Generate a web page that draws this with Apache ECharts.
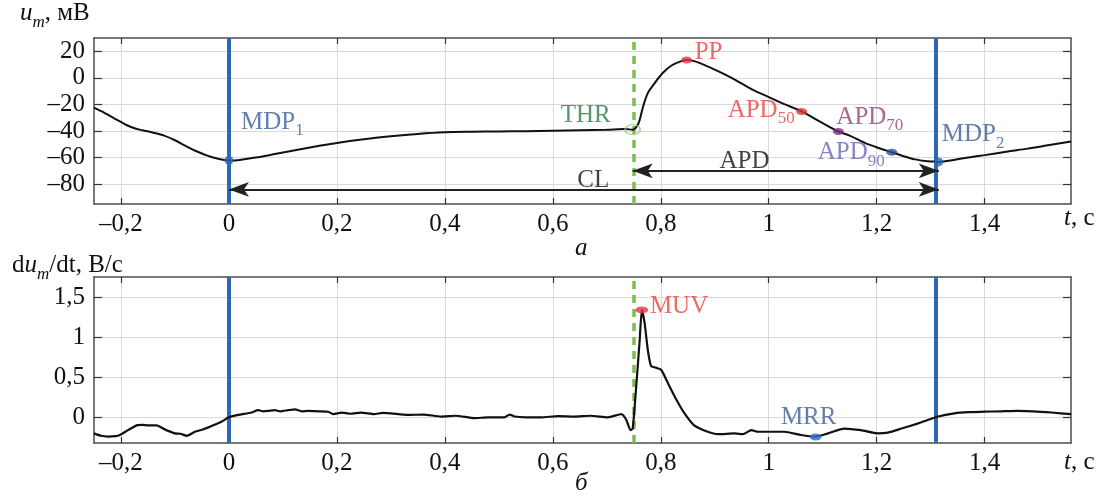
<!DOCTYPE html>
<html>
<head>
<meta charset="utf-8">
<title>Action potential</title>
<script src="https://cdn.jsdelivr.net/npm/echarts@6.0.0/dist/echarts.min.js"></script>
<style>
  html, body { margin: 0; padding: 0; background: #fff; }
  #chart { width: 1102px; height: 496px; }
</style>
</head>
<body>
<div id="chart"></div>
<script>
// membrane potential u_m, mV
const tTop = [-0.25, -0.23, -0.21, -0.19, -0.175, -0.16, -0.14, -0.12, -0.10, -0.08, -0.06, -0.04, -0.02, 0,
  0.02, 0.05, 0.08, 0.11, 0.14, 0.17, 0.2, 0.25, 0.3, 0.35, 0.4, 0.45, 0.5, 0.55, 0.6, 0.65, 0.7, 0.735,
  0.748, 0.754, 0.760, 0.767, 0.776, 0.789, 0.804, 0.82, 0.838, 0.848, 0.862, 0.876, 0.906, 0.937, 0.968,
  1.0, 1.03, 1.061, 1.095, 1.129, 1.15, 1.178, 1.205, 1.228, 1.25, 1.271, 1.29, 1.302, 1.315, 1.33, 1.345,
  1.37, 1.40, 1.44, 1.48, 1.52, 1.56];
const uTop = [-22.5, -26.5, -31, -35.5, -38, -39.5, -41.3, -43.5, -47, -51.3, -55.3, -58.6, -61, -62.2,
  -61.8, -60, -57.8, -55.5, -53.2, -51, -49, -46.3, -44, -42.2, -41, -40.6, -40.4, -40.2, -39.8, -39.4, -39, -38.6,
  -39, -37.5, -33, -22, -11.5, -3.8, 3.8, 9.3, 12.6, 13.4, 12.6, 10.5, 5, -1.3, -8.5,
  -14.5, -20, -25.3, -33, -40.4, -43.5, -49, -53, -56, -59, -61.4, -62.6, -63, -63.3, -62.6, -61.6,
  -60, -58.2, -55.6, -53.3, -50.6, -48];

// derivative du_m/dt, V/s
const tDv = [-0.25, -0.237, -0.224, -0.21, -0.202, -0.187, -0.171, -0.16, -0.15, -0.134, -0.119, -0.10, -0.09,
  -0.078, -0.063, -0.05, -0.038, -0.014, 0, 0.017, 0.042, 0.054, 0.064, 0.073, 0.085, 0.095, 0.11, 0.122,
  0.135, 0.147, 0.165, 0.184, 0.193, 0.209, 0.225, 0.245, 0.269, 0.285, 0.3, 0.331, 0.36, 0.393, 0.42,
  0.455, 0.48, 0.51, 0.52, 0.529, 0.55, 0.578, 0.61, 0.64, 0.67, 0.702, 0.727, 0.736, 0.744, 0.748,
  0.754, 0.761, 0.765, 0.770, 0.776, 0.782, 0.791, 0.801, 0.813, 0.829, 0.844, 0.862, 0.887, 0.906,
  0.937, 0.952, 0.968, 0.980, 0.998, 1.029, 1.06, 1.085, 1.11, 1.14, 1.171, 1.202, 1.221, 1.246, 1.277,
  1.314, 1.344, 1.37, 1.4, 1.43, 1.462, 1.49, 1.524, 1.56];
const dv = [-0.20, -0.23, -0.24, -0.235, -0.22, -0.16, -0.10, -0.095, -0.10, -0.10, -0.15, -0.20, -0.205,
  -0.23, -0.18, -0.155, -0.125, -0.055, 0, 0.03, 0.06, 0.09, 0.075, 0.08, 0.09, 0.075, 0.09, 0.1,
  0.075, 0.08, 0.075, 0.07, 0.04, 0.06, 0.045, 0.06, 0.04, 0.055, 0.05, 0.03, 0.035, 0.01, 0.02,
  -0.01, 0.0, 0.0, 0.035, 0.01, 0.0, 0.0, 0.015, 0.01, 0.02, 0.0, 0.04, -0.03, -0.16, -0.14,
  0.34, 0.97, 1.34, 1.18, 0.84, 0.64, 0.62, 0.59, 0.43, 0.22, 0.05, -0.10, -0.18, -0.21,
  -0.2, -0.21, -0.16, -0.18, -0.18, -0.18, -0.22, -0.24, -0.2, -0.14, -0.16, -0.2, -0.19, -0.14, -0.075,
  0.01, 0.05, 0.065, 0.07, 0.075, 0.08, 0.075, 0.06, 0.04];

const xTicks = [-0.2, 0, 0.2, 0.4, 0.6, 0.8, 1, 1.2, 1.4];
const uTicks = [-80, -60, -40, -20, 0, 20];
const dvTicks = [0, 0.5, 1, 1.5];

// marked points
const uPointNames = ['MDP1', 'THR', 'PP', 'APD50', 'APD70', 'APD90', 'MDP2'];
const uPointT = [0, 0.748, 0.848, 1.061, 1.129, 1.228, 1.315];
const uPointU = [-62.2, -39, 13.4, -25.3, -40.4, -56, -63.3];
const dvPointNames = ['MUV', 'MRR'];
const dvPointT = [0.765, 1.087];
const dvPointV = [1.34, -0.245];

// interval arrows
const arrowNames = ['CL', 'APD'];
const arrowFrom = [0, 0.748];
const arrowTo = [1.315, 1.315];
const arrowLevel = [-84, -70];
const arrowTextT = [0.675, 0.955];

const FONT = "'Liberation Serif', 'Times New Roman', serif";
const BLUE = '#2d68b4';
const GREEN = '#7cbf4f';
const FRAME = '#4d4d4d';

const mdp1T = uPointT[0], thrT = uPointT[1], mdp2T = uPointT[6];

function sub(main, s, color) {
  return {
    formatter: '{m|' + main + '}{s|' + s + '}',
    rich: {
      m: { fontFamily: FONT, fontSize: 25, color: color, padding: [0, 0, 5, 0], verticalAlign: 'bottom' },
      s: { fontFamily: FONT, fontSize: 17, color: color, verticalAlign: 'bottom' }
    }
  };
}
function plain(main, color) {
  return {
    formatter: '{m|' + main + '}',
    rich: { m: { fontFamily: FONT, fontSize: 25, color: color } }
  };
}

// look of each marked point
const pointLook = {
  MDP1:  { dot: BLUE, size: [9, 9], text: sub('MDP', '1', '#3d5f95'), align: 'left', offset: [12, -36] },
  THR:   { dot: 'none', ring: '#9ccd7e', size: [15, 10], text: plain('THR', '#2e7a4a'), align: 'right', offset: [-22, -14] },
  PP:    { dot: '#e8334a', size: [11, 7], text: plain('PP', '#e8453f'), align: 'left', offset: [8, -8] },
  APD50: { dot: '#d6363c', size: [11, 7], text: sub('APD', '50', '#e8453f'), align: 'right', offset: [-7, 1] },
  APD70: { dot: '#7b2d7d', size: [11, 7], text: sub('APD', '70', '#9a3f7c'), align: 'left', offset: [-2, -12] },
  APD90: { dot: '#2c4f9e', size: [11, 7], text: sub('APD', '90', '#6666b5'), align: 'right', offset: [-7, 3] },
  MDP2:  { dot: BLUE, size: [9, 9], text: sub('MDP', '2', '#3d5f95'), align: 'left', offset: [3, -25] },
  MUV:   { dot: '#e8334a', size: [13, 7], text: plain('MUV', '#e8453f'), align: 'left', offset: [8, -3] },
  MRR:   { dot: '#2f6fc0', size: [12, 7], text: plain('MRR', '#3d5f95'), align: 'center', offset: [-7, -20] }
};

function pointData(names, ts, vs) {
  return names.map((n, i) => {
    const look = pointLook[n];
    return {
      name: n,
      value: [ts[i], vs[i]],
      symbolSize: look.size,
      itemStyle: look.ring
        ? { color: 'rgba(0,0,0,0)', borderColor: look.ring, borderWidth: 1.5 }
        : { color: look.dot },
      label: Object.assign({
        show: true, position: 'inside', align: look.align, verticalAlign: 'middle', offset: look.offset
      }, look.text)
    };
  });
}

const fmt = v => (v < 0 ? '\u2013' : '') + String(Math.abs(v)).replace('.', ',');

function xAxes(gridIndex) {
  const base = {
    gridIndex: gridIndex, type: 'value', min: -0.25, max: 1.56,
    axisLine: { show: true, onZero: false, lineStyle: { color: FRAME, width: 1.5 } }
  };
  return [
    Object.assign({}, base, {
      position: 'bottom',
      axisTick: { show: true, inside: true, length: 6, customValues: xTicks, lineStyle: { color: '#333', width: 1.2 } },
      axisLabel: { show: true, customValues: xTicks, formatter: fmt, margin: 8, color: '#111', fontFamily: FONT, fontSize: 25 },
      splitLine: { show: true, lineStyle: { color: '#d9d9d9', width: 1 } }
    }),
    Object.assign({}, base, {
      position: 'top',
      axisTick: { show: true, inside: true, length: 6, customValues: xTicks, lineStyle: { color: '#333', width: 1.2 } },
      axisLabel: { show: false },
      splitLine: { show: false }
    })
  ];
}

function yAxes(gridIndex, min, max, ticks) {
  const base = {
    gridIndex: gridIndex, type: 'value', min: min, max: max,
    axisLine: { show: true, onZero: false, lineStyle: { color: FRAME, width: 1.5 } }
  };
  return [
    Object.assign({}, base, {
      position: 'left',
      axisTick: { show: true, inside: true, length: 8, customValues: ticks, lineStyle: { color: '#333', width: 1.2 } },
      axisLabel: { show: true, customValues: ticks, formatter: fmt, margin: 9, color: '#111', fontFamily: FONT, fontSize: 25 },
      splitLine: { show: true, lineStyle: { color: '#d9d9d9', width: 1 } }
    }),
    Object.assign({}, base, {
      position: 'right',
      axisTick: { show: true, inside: true, length: 8, customValues: ticks, lineStyle: { color: '#333', width: 1.2 } },
      axisLabel: { show: false },
      splitLine: { show: false }
    })
  ];
}

function verticals() {
  return {
    silent: true,
    symbol: 'none',
    label: { show: false },
    data: [
      { xAxis: mdp1T, lineStyle: { color: BLUE, width: 4, type: 'solid' } },
      { xAxis: thrT, lineStyle: { color: GREEN, width: 3.5, type: [8, 6] } },
      { xAxis: mdp2T, lineStyle: { color: BLUE, width: 4, type: 'solid' } }
    ]
  };
}

const chart = echarts.init(document.getElementById('chart'), null, { renderer: 'canvas' });

const option = {
  animation: false,
  backgroundColor: '#fff',
  textStyle: { fontFamily: FONT },
  grid: [
    { left: 94, right: 31, top: 38, height: 166, outerBoundsMode: 'none' },
    { left: 94, right: 31, top: 277, height: 166, outerBoundsMode: 'none' }
  ],
  xAxis: xAxes(0).concat(xAxes(1)),
  yAxis: yAxes(0, -95, 30, uTicks).concat(yAxes(1, -0.32, 1.75, dvTicks)),
  series: [
    {
      type: 'line', xAxisIndex: 0, yAxisIndex: 0, z: 3,
      data: tTop.map((t, i) => [t, uTop[i]]),
      showSymbol: false, smooth: 0.3,
      lineStyle: { color: '#111', width: 2 },
      markLine: Object.assign({ z: 2 }, verticals())
    },
    {
      type: 'line', xAxisIndex: 0, yAxisIndex: 0, z: 2,
      data: [],
      markLine: {
        silent: true,
        symbol: ['arrow', 'arrow'],
        symbolSize: [11, 20],
        label: { show: false },
        lineStyle: { color: '#222', width: 2, type: 'solid' },
        data: arrowNames.map((n, i) => [
          { coord: [arrowFrom[i], arrowLevel[i]] },
          { coord: [arrowTo[i], arrowLevel[i]] }
        ])
      }
    },
    {
      type: 'scatter', xAxisIndex: 0, yAxisIndex: 0, z: 5,
      data: arrowNames.map((n, i) => ({
        name: n, value: [arrowTextT[i], arrowLevel[i]],
        label: Object.assign({ show: true, position: 'inside', align: 'center', verticalAlign: 'middle', offset: [0, -9] }, plain(n, '#111'))
      })),
      symbolSize: 0
    },
    {
      type: 'scatter', xAxisIndex: 0, yAxisIndex: 0, z: 6,
      data: pointData(uPointNames, uPointT, uPointU)
    },
    {
      type: 'line', xAxisIndex: 2, yAxisIndex: 2, z: 3,
      data: tDv.map((t, i) => [t, dv[i]]),
      showSymbol: false, smooth: 0.2,
      lineStyle: { color: '#111', width: 2.2 },
      markLine: Object.assign({ z: 2 }, verticals())
    },
    {
      type: 'scatter', xAxisIndex: 2, yAxisIndex: 2, z: 6,
      data: pointData(dvPointNames, dvPointT, dvPointV)
    }
  ],
  graphic: [
    {
      type: 'text', left: 20, top: 1,
      style: {
        text: '{i|u}{s|m}{n|, мВ}',
        rich: {
          i: { fontFamily: FONT, fontSize: 25, fontStyle: 'italic', fill: '#111', padding: [0, 0, 5, 0], verticalAlign: 'bottom' },
          s: { fontFamily: FONT, fontSize: 17, fontStyle: 'italic', fill: '#111', verticalAlign: 'bottom' },
          n: { fontFamily: FONT, fontSize: 25, fill: '#111', padding: [0, 0, 5, 0], verticalAlign: 'bottom' }
        }
      }
    },
    {
      type: 'text', left: 12, top: 253,
      style: {
        text: '{n|d}{i|u}{s|m}{n|/dt, В/с}',
        rich: {
          i: { fontFamily: FONT, fontSize: 25, fontStyle: 'italic', fill: '#111', padding: [0, 0, 5, 0], verticalAlign: 'bottom' },
          s: { fontFamily: FONT, fontSize: 17, fontStyle: 'italic', fill: '#111', verticalAlign: 'bottom' },
          n: { fontFamily: FONT, fontSize: 25, fill: '#111', padding: [0, 0, 5, 0], verticalAlign: 'bottom' }
        }
      }
    },
    {
      type: 'text', left: 1064, top: 206,
      style: {
        text: '{i|t}{n|, с}',
        rich: {
          i: { fontFamily: FONT, fontSize: 25, fontStyle: 'italic', fill: '#111' },
          n: { fontFamily: FONT, fontSize: 25, fill: '#111' }
        }
      }
    },
    {
      type: 'text', left: 1064, top: 450,
      style: {
        text: '{i|t}{n|, с}',
        rich: {
          i: { fontFamily: FONT, fontSize: 25, fontStyle: 'italic', fill: '#111' },
          n: { fontFamily: FONT, fontSize: 25, fill: '#111' }
        }
      }
    },
    {
      type: 'text', left: 575, top: 236,
      style: { text: 'а', fontFamily: FONT, fontSize: 25, fontStyle: 'italic', fill: '#111' }
    },
    {
      type: 'text', left: 575, top: 471,
      style: { text: 'б', fontFamily: FONT, fontSize: 25, fontStyle: 'italic', fill: '#111' }
    }
  ]
};

chart.setOption(option);
</script>
</body>
</html>
